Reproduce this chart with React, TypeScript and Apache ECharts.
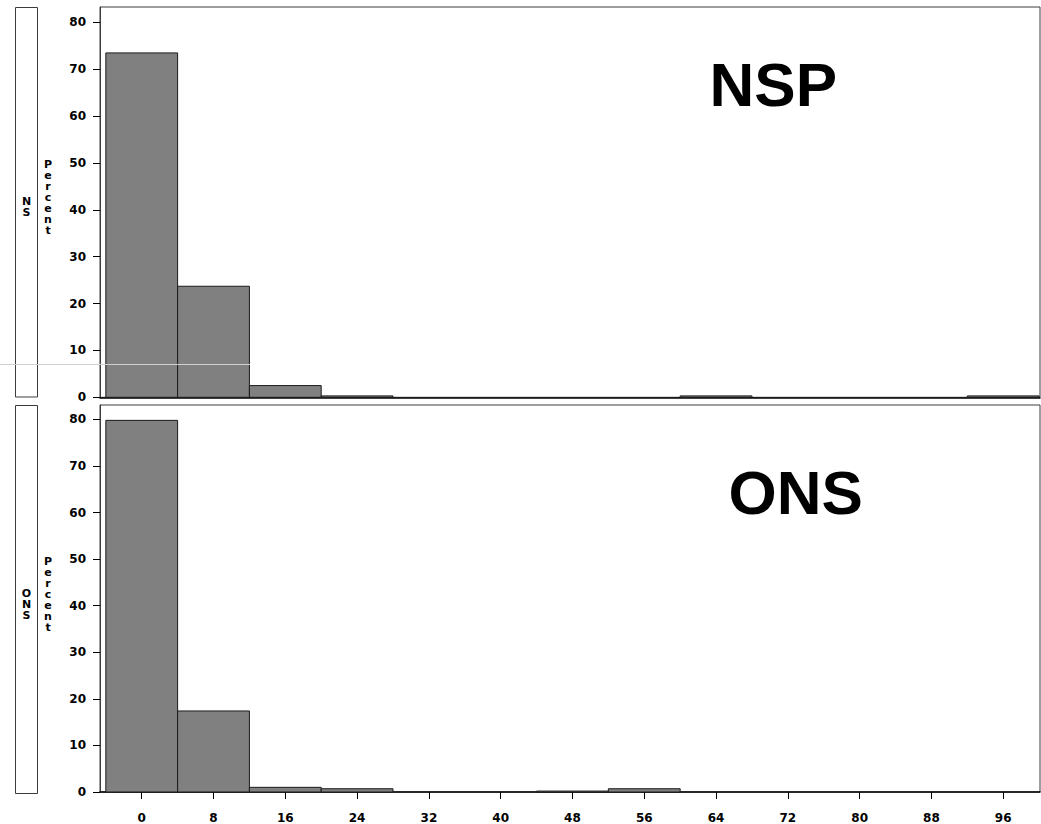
import React, { useEffect, useRef } from "react";
import * as echarts from "echarts";

// Histogram bin midpoints (bin width 8)
const binCenters = [0, 8, 16, 24, 32, 40, 48, 56, 64, 72, 80, 88, 96];
const binWidth = 8;
// Percent per bin, panel NS (NSP)
const nsPercent = [73.5, 23.7, 2.5, 0.3, 0, 0, 0, 0, 0.3, 0, 0, 0, 0.3];
// Percent per bin, panel ONS
const onsPercent = [79.8, 17.4, 1.0, 0.7, 0, 0, 0.2, 0.7, 0, 0, 0, 0, 0];
const yTicks = [0, 10, 20, 30, 40, 50, 60, 70, 80];
const xTicks = binCenters;

const tickFont = "DejaVu Sans";
const frameColor = "#3c3c3c";

const makeSeries = (values: number[], idx: number) => ({
  type: "custom",
  xAxisIndex: idx,
  yAxisIndex: idx,
  data: binCenters
    .map((c, i) => [c, values[i]])
    .filter((d) => d[1] > 0),
  renderItem: (_params: any, api: any) => {
    const c = api.value(0);
    const v = api.value(1);
    const p0 = api.coord([c - binWidth / 2, v]);
    const p1 = api.coord([c + binWidth / 2, 0]);
    return {
      type: "rect",
      shape: { x: p0[0], y: p0[1], width: p1[0] - p0[0], height: p1[1] - p0[1] },
      style: { fill: "#808080", stroke: "#1a1a1a", lineWidth: 1 },
    };
  },
});

const xAxisBase = {
  type: "value",
  min: -4.65,
  max: 100.1,
  splitLine: { show: false },
  axisLine: { show: true, onZero: false, lineStyle: { color: "#000", width: 1.5 } },
};

const yAxisBase = {
  type: "value",
  min: 0,
  splitLine: { show: false },
  axisLine: { show: true, onZero: false, lineStyle: { color: frameColor, width: 1 } },
  axisTick: { show: true, length: 7, customValues: yTicks, lineStyle: { color: "#000" } },
  axisLabel: {
    customValues: yTicks,
    margin: 14,
    fontFamily: tickFont,
    fontWeight: "bold",
    fontSize: 12,
    color: "#000",
  },
};

const letterStyle = {
  fontFamily: tickFont,
  fontWeight: "bold",
  fontSize: 11,
  lineHeight: 11,
  fill: "#000",
  align: "center",
  verticalAlign: "middle",
};

export default function App() {
  const ref = useRef<HTMLDivElement>(null);
  useEffect(() => {
    if (!ref.current) return;
    const chart = echarts.init(ref.current, null, { renderer: "svg" });
    chart.setOption({
      animation: false,
      backgroundColor: "#fff",
      grid: [
        { left: 100, top: 7, width: 940, height: 390.3, show: true, borderColor: frameColor, borderWidth: 1 },
        { left: 100, top: 405, width: 940, height: 389.5, show: true, borderColor: frameColor, borderWidth: 1 },
      ],
      xAxis: [
        { ...xAxisBase, gridIndex: 0, axisTick: { show: false }, axisLabel: { show: false } },
        {
          ...xAxisBase,
          gridIndex: 1,
          axisTick: { show: true, length: 7, customValues: xTicks, lineStyle: { color: "#000" } },
          axisLabel: {
            customValues: xTicks,
            margin: 20,
            fontFamily: tickFont,
            fontWeight: "bold",
            fontSize: 12,
            color: "#000",
          },
        },
      ],
      yAxis: [
        { ...yAxisBase, gridIndex: 0, max: 83.3 },
        { ...yAxisBase, gridIndex: 1, max: 83.1 },
      ],
      series: [makeSeries(nsPercent, 0), makeSeries(onsPercent, 1)],
      graphic: [
        { type: "rect", shape: { x: 15.5, y: 7.5, width: 22, height: 389.5 }, style: { fill: "#fff", stroke: frameColor, lineWidth: 1 } },
        { type: "rect", shape: { x: 15.5, y: 405.5, width: 22, height: 388 }, style: { fill: "#fff", stroke: frameColor, lineWidth: 1 } },
        { type: "text", x: 26.5, y: 207, style: { ...letterStyle, text: "N\nS" } },
        { type: "text", x: 26.5, y: 604, style: { ...letterStyle, text: "O\nN\nS" } },
        { type: "text", x: 48, y: 197, style: { ...letterStyle, text: "P\ne\nr\nc\ne\nn\nt" } },
        { type: "text", x: 48, y: 594, style: { ...letterStyle, text: "P\ne\nr\nc\ne\nn\nt" } },
        {
          type: "text",
          x: 709.5,
          y: 84,
          style: { text: "NSP", fontFamily: "Liberation Sans", fontWeight: "bold", fontSize: 62, fill: "#000", verticalAlign: "middle" },
        },
        {
          type: "text",
          x: 728.5,
          y: 492.5,
          style: { text: "ONS", fontFamily: "Liberation Sans", fontWeight: "bold", fontSize: 62, fill: "#000", verticalAlign: "middle" },
        },
        { type: "line", z: 100, shape: { x1: 0, y1: 364.5, x2: 250, y2: 364.5 }, style: { stroke: "#cfcfcf", lineWidth: 1 } },
      ],
    });
    return () => chart.dispose();
  }, []);
  return (
    <div
      ref={ref}
      style={{ position: "absolute", left: 0, top: 0, width: 1041, height: 824 }}
    />
  );
}
